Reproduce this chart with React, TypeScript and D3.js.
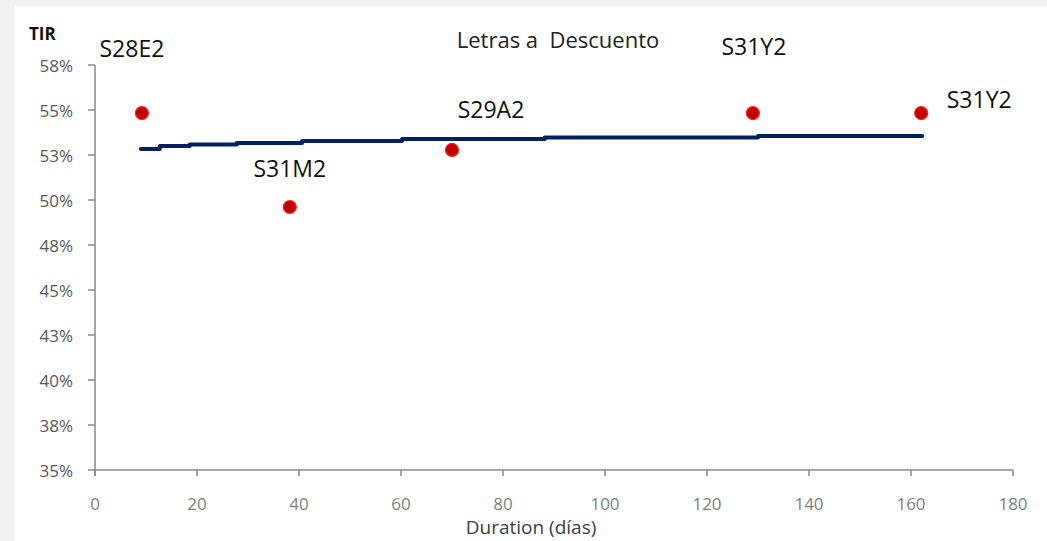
import React from "react";
import * as d3 from "d3";

const curveDays = [9, 12.7, 18.6, 27.8, 40.6, 60.2, 88.2, 130, 162.2];
const curveTir = [0.5283, 0.53, 0.5308, 0.5317, 0.5328, 0.5339, 0.5347, 0.5356, 0.5356];

const bondNames = ["S28E2", "S31M2", "S29A2", "S31Y2", "S31Y2"];
const bondDays = [9.2, 38.2, 70, 129, 162];
const bondTir = [0.5483, 0.4961, 0.5278, 0.5483, 0.5483];

const yTicks = [0.35, 0.375, 0.4, 0.425, 0.45, 0.475, 0.5, 0.525, 0.55, 0.575];
const xTicks = [0, 20, 40, 60, 80, 100, 120, 140, 160, 180];

// label offsets (dx, baseline dy) relative to each marker
const labelOffsets: [number, number][] = [
  [-10, -56],
  [0, -30],
  [39, -32],
  [1, -58],
  [58, -5],
];

export default function App() {
  const W = 1047;
  const H = 541;
  const x = d3.scaleLinear().domain([0, 180]).range([95, 1013]);
  const y = d3.scaleLinear().domain([0.35, 0.575]).range([470, 65]);
  const line = d3
    .line<number>()
    .x((_, i) => x(curveDays[i]))
    .y((d) => y(d))
    .curve(d3.curveStepAfter);
  const font = "'Open Sans', 'Noto Sans', sans-serif";
  return (
    <svg
      width={W}
      height={H}
      style={{ position: "absolute", left: 0, top: 0, display: "block" }}
    >
      <rect x={0} y={0} width={W} height={H} fill="#f2f2f2" />
      <rect x={14} y={6} width={W - 14} height={H - 6} fill="#ffffff" />
      {/* axes */}
      <line x1={x(0)} x2={x(0)} y1={y(0.575)} y2={y(0.35) + 6} stroke="#888" strokeWidth={1.5} />
      <line x1={x(0)} x2={x(180)} y1={y(0.35)} y2={y(0.35)} stroke="#888" strokeWidth={1.5} />
      {yTicks.map((t) => (
        <g key={t}>
          <line x1={x(0) - 7} x2={x(0)} y1={y(t)} y2={y(t)} stroke="#888" strokeWidth={1.5} />
          <text
            x={73}
            y={y(t)}
            textAnchor="end"
            dominantBaseline="central"
            fontFamily={font}
            fontSize={17}
            fill="#595959"
          >
            {Math.round(t * 100 + 1e-6) + "%"}
          </text>
        </g>
      ))}
      {xTicks.map((t) => (
        <g key={t}>
          <line x1={x(t)} x2={x(t)} y1={y(0.35)} y2={y(0.35) + 6} stroke="#888" strokeWidth={1.5} />
          <text
            x={x(t)}
            y={503}
            textAnchor="middle"
            dominantBaseline="central"
            fontFamily={font}
            fontSize={17}
            fill="#7f7f7f"
          >
            {t}
          </text>
        </g>
      ))}
      <text x={531} y={534} textAnchor="middle" fontFamily={font} fontSize={19} fill="#404040">
        Duration (días)
      </text>
      <text x={29} y={40} fontFamily={font} fontSize={17} fontWeight="bold" fill="#111">
        TIR
      </text>
      <text
        x={558}
        y={48}
        textAnchor="middle"
        fontFamily={font}
        fontSize={22}
        fill="#222"
        style={{ whiteSpace: "pre" }}
      >
        {"Letras a  Descuento"}
      </text>
      {/* curve */}
      <path
        d={line(curveTir) || ""}
        fill="none"
        stroke="#002060"
        strokeWidth={4}
        strokeLinecap="round"
        strokeLinejoin="round"
      />
      {/* bonds */}
      {bondNames.map((n, i) => (
        <g key={i}>
          <circle cx={x(bondDays[i])} cy={y(bondTir[i])} r={6.5} fill="#c00000" stroke="#ff2020" strokeWidth={1.2} />
          <text
            x={x(bondDays[i]) + labelOffsets[i][0]}
            y={y(bondTir[i]) + labelOffsets[i][1]}
            textAnchor="middle"
            fontFamily={font}
            fontSize={23}
            fill="#111"
          >
            {n}
          </text>
        </g>
      ))}
    </svg>
  );
}
